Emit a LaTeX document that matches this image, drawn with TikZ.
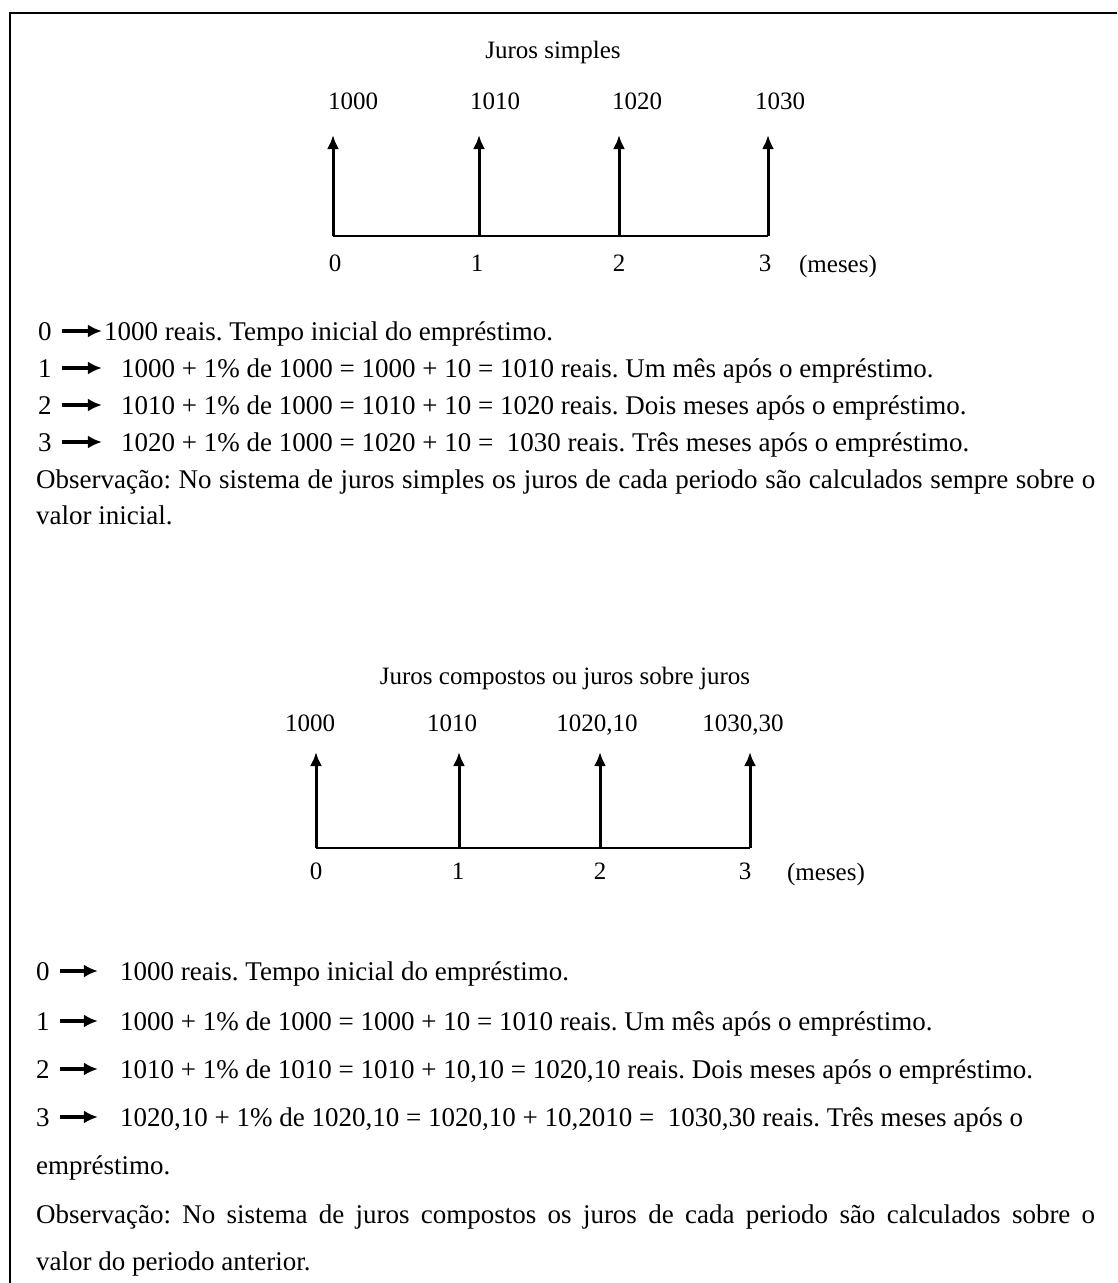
\documentclass[tikz,border=0pt]{standalone}
\usepackage{fontspec}
\setmainfont{Liberation Serif}
\frenchspacing
\usetikzlibrary{arrows.meta,calc}
\begin{document}
\begin{tikzpicture}[x=1pt,y=-1pt,
  txt/.style={inner sep=0pt,anchor=base west,font=\fontsize{27}{32}\selectfont},
  lbl/.style={inner sep=0pt,anchor=base,font=\fontsize{25}{30}\selectfont},
  flow/.style={line width=3pt,-{Latex[length=14pt,width=12pt]}},
  axis/.style={line width=2.5pt},
  txtarrow/.style={line width=3.5pt,-{Latex[length=14pt,width=13pt]}},
  frame/.style={line width=2pt}
]
\useasboundingbox (0,0) rectangle (1117,1283);
\draw[frame] (1117,13) -- (10,13) -- (10,1283);

% ---------- Juros simples diagram ----------
\node[lbl] (t1) at (553,58) {Juros simples};
\foreach \i/\x/\v/\vx/\lx in {0/333/1000/353/335, 1/479/1010/495/477, 2/619/1020/637/619, 3/768/1030/780/765}{
  \coordinate (sb\i) at (\x,236);
  \coordinate (st\i) at (\x,135);
  \node[lbl] (sv\i) at (\vx,109) {\v};
  \node[lbl] (sl\i) at (\lx,271) {\i};
  \draw[flow] (sb\i) -- (st\i);
}
\node[lbl] (sm) at (838,272) {(meses)};
\draw[axis] (sb0) -- (sb3);

% ---------- top text ----------
\node[txt] (a0) at (38,340) {0};
\node[txt] (ar0) at (104,340) {1000 reais. Tempo inicial do empréstimo.};
\node[txt] (a1) at (38,377) {1};
\node[txt] (ar1) at (121,377) {1000 + 1\% de 1000 = 1000 + 10 = 1010 reais. Um mês após o empréstimo.};
\node[txt] (a2) at (38,414) {2};
\node[txt] (ar2) at (121,414) {1010 + 1\% de 1000 = 1010 + 10 = 1020 reais. Dois meses após o empréstimo.};
\node[txt] (a3) at (38,451) {3};
\node[txt] (ar3) at (121,451) {1020 + 1\% de 1000 = 1020 + 10 = \ 1030 reais. Três meses após o empréstimo.};
\foreach \i in {0,1,2,3}{
  \draw[txtarrow] ($(a\i.base east)+(10,-9)$) -- ($(a\i.base east)+(50,-9)$);
}
\node[txt] (aobs) at (36,488) {\makebox[1059pt][s]{Observação: No sistema de juros simples os juros de cada periodo são calculados sempre sobre o}};
\node[txt] (aobs2) at (36,524) {valor inicial.};

% ---------- Juros compostos diagram ----------
\node[lbl] (t2) at (565,684) {Juros compostos ou juros sobre juros};
\foreach \i/\x/\v/\vx/\lx in {0/316/1000/310/316, 1/459/1010/452/458, 2/600/{1020,10}/597/600, 3/750/{1030,30}/743/745}{
  \coordinate (cb\i) at (\x,848);
  \coordinate (ct\i) at (\x,752);
  \node[lbl] (cv\i) at (\vx,731) {\v};
  \node[lbl] (cl\i) at (\lx,879) {\i};
  \draw[flow] (cb\i) -- (ct\i);
}
\node[lbl] (cm) at (826,880) {(meses)};
\draw[axis] (cb0) -- (cb3);

% ---------- bottom text ----------
\node[txt] (b0) at (36,980) {0};
\node[txt] (br0) at (120,980) {1000 reais. Tempo inicial do empréstimo.};
\node[txt] (b1) at (36,1030) {1};
\node[txt] (br1) at (120,1030) {1000 + 1\% de 1000 = 1000 + 10 = 1010 reais. Um mês após o empréstimo.};
\node[txt] (b2) at (36,1078) {2};
\node[txt] (br2) at (120,1078) {1010 + 1\% de 1010 = 1010 + 10,10 = 1020,10 reais. Dois meses após o empréstimo.};
\node[txt] (b3) at (36,1126) {3};
\node[txt] (br3) at (120,1126) {1020,10 + 1\% de 1020,10 = 1020,10 + 10,2010 = \ 1030,30 reais. Três meses após o};
\foreach \i in {0,1,2,3}{
  \draw[txtarrow] ($(b\i.base east)+(10,-9)$) -- ($(b\i.base east)+(48,-9)$);
}
\node[txt] (b4) at (36,1174) {empréstimo.};
\node[txt] (bobs) at (36,1223) {\makebox[1059pt][s]{Observação: No sistema de juros compostos os juros de cada periodo são calculados sobre o}};
\node[txt] (bobs2) at (36,1270) {valor do periodo anterior.};
\end{tikzpicture}
\end{document}
